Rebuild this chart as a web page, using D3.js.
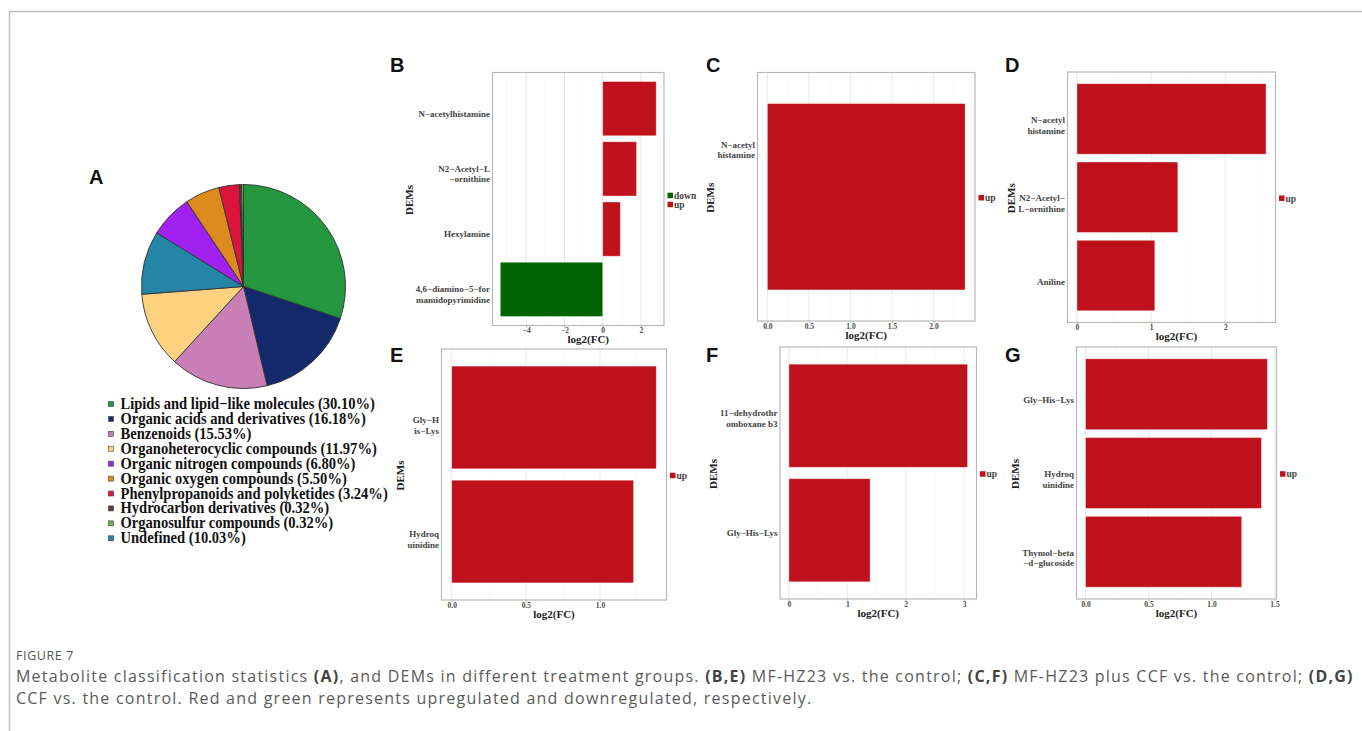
<!DOCTYPE html>
<html>
<head>
<meta charset="utf-8">
<script src="https://cdn.jsdelivr.net/npm/d3@7"></script>
<style>
  body { margin: 0; background: #fff; }
  svg { display: block; }
</style>
</head>
<body>
<script>
// Pie data (drawing order, clockwise from 12 o'clock)
var pieLabels = ["Lipids and lipid−like molecules", "Organic acids and derivatives", "Benzenoids",
  "Organoheterocyclic compounds", "Undefined", "Organic nitrogen compounds", "Organic oxygen compounds",
  "Phenylpropanoids and polyketides", "Hydrocarbon derivatives", "Organosulfur compounds"];
var pieValues = [30.10, 16.18, 15.53, 11.97, 10.03, 6.80, 5.50, 3.24, 0.32, 0.32];
var pieColors = ["#23963f", "#13296b", "#c77fb6", "#fdd17f", "#2585a6", "#a021f0", "#df8a1f",
  "#dc143c", "#5c3a2e", "#6aaf4a"];
// legend order differs from the pie order
var legendOrder = ["Lipids and lipid−like molecules", "Organic acids and derivatives", "Benzenoids",
  "Organoheterocyclic compounds", "Organic nitrogen compounds", "Organic oxygen compounds",
  "Phenylpropanoids and polyketides", "Hydrocarbon derivatives", "Organosulfur compounds", "Undefined"];

// Bar panels data (top to bottom)
var namesB = ["N−acetylhistamine", "N2−Acetyl−L\n−ornithine", "Hexylamine", "4,6−diamino−5−for\nmamidopyrimidine"];
var valuesB = [2.80, 1.77, 0.92, -5.36];
var ticksB = [-4, -2, 0, 2];

var namesC = ["N−acetyl\nhistamine"];
var valuesC = [2.38];
var ticksC = [0, 0.5, 1.0, 1.5, 2.0];

var namesD = ["N−acetyl\nhistamine", "N2−Acetyl−\nL−ornithine", "Aniline"];
var valuesD = [2.55, 1.36, 1.05];
var ticksD = [0, 1, 2];

var namesE = ["Gly−H\nis−Lys", "Hydroq\nuinidine"];
var valuesE = [1.38, 1.227];
var ticksE = [0, 0.5, 1.0];

var namesF = ["11−dehydrothr\nomboxane b3", "Gly−His−Lys"];
var valuesF = [3.06, 1.39];
var ticksF = [0, 1, 2, 3];

var namesG = ["Gly−His−Lys", "Hydroq\nuinidine", "Thymol−beta\n−d−glucoside"];
var valuesG = [1.444, 1.397, 1.24];
var ticksG = [0, 0.5, 1.0, 1.5];

var upColor = "#bf111c", downColor = "#006400";
var serif = "'Liberation Serif', 'Times New Roman', serif";

var svg = d3.select("body").append("svg")
  .attr("width", 1362)
  .attr("height", 731);

// outer frame
svg.append("line").attr("x1", 9).attr("x2", 1362).attr("y1", 11.5).attr("y2", 11.5)
  .style("stroke", "#bdbdbd").style("stroke-width", 1.5);
svg.append("line").attr("x1", 9.5).attr("x2", 9.5).attr("y1", 11).attr("y2", 731)
  .style("stroke", "#bdbdbd").style("stroke-width", 1.5);

// panel letters
var letters = [["A", 89, 184], ["B", 390, 71.5], ["C", 706, 71.5], ["D", 1005, 71.5],
  ["E", 390, 362], ["F", 706, 362], ["G", 1005, 362]];
svg.selectAll(".letter")
  .data(letters)
  .enter()
  .append("text")
  .attr("x", d => d[1])
  .attr("y", d => d[2])
  .text(d => d[0])
  .style("font-family", "'Liberation Sans', Arial, sans-serif")
  .style("font-weight", "bold")
  .style("font-size", "20px")
  .style("fill", "#111");

// ---- Pie (A) ----
var pie = d3.pie().sort(null).value(d => d)(pieValues);
var arc = d3.arc().innerRadius(0).outerRadius(102);
var pieG = svg.append("g").attr("transform", "translate(243.5,286.5)");
pieG.selectAll("path")
  .data(pie)
  .enter()
  .append("path")
  .attr("d", arc)
  .style("fill", (d, i) => pieColors[i])
  .style("stroke", "#333")
  .style("stroke-width", 0.9);

var legA = svg.append("g").attr("transform", "translate(108.5,409)");
legendOrder.forEach(function (name, i) {
  var k = pieLabels.indexOf(name);
  legA.append("rect")
    .attr("x", 0)
    .attr("y", i * 14.92 - 7.5)
    .attr("width", 5)
    .attr("height", 5)
    .style("fill", pieColors[k])
    .style("stroke", "#444")
    .style("stroke-width", 0.6);
  legA.append("text")
    .attr("transform", "translate(12," + (i * 14.92) + ") scale(0.91,1)")
    .text(name + " (" + pieValues[k].toFixed(2) + "%)")
    .style("font-family", serif)
    .style("font-weight", "bold")
    .style("font-size", "16px")
    .style("fill", "#111");
});

// ---- Bar panels ----
var panels = [
  { names: namesB, values: valuesB, ticks: ticksB, fmt: "d", keys: ["down", "up"],
    left: 492.5, right: 664, top: 72.5, bottom: 325.5, labelDy: 5, titleDx: 10, titleDy: 13.5 },
  { names: namesC, values: valuesC, ticks: ticksC, fmt: ".1f", keys: ["up"],
    left: 757.5, right: 975, top: 72.5, bottom: 321, labelDy: -47, titleDx: 0, titleDy: 14 },
  { names: namesD, values: valuesD, ticks: ticksD, fmt: "d", keys: ["up"],
    left: 1067.5, right: 1275.5, top: 72, bottom: 322.5, labelDy: 6, titleDx: 5, titleDy: 14 },
  { names: namesE, values: valuesE, ticks: ticksE, fmt: ".1f", keys: ["up"],
    left: 441.5, right: 666.5, top: 349, bottom: 600, labelDy: 8, titleDx: 0, titleDy: 14 },
  { names: namesF, values: valuesF, ticks: ticksF, fmt: "d", keys: ["up"],
    left: 780, right: 976.5, top: 347, bottom: 599, labelDy: 3, titleDx: 0, titleDy: 14 },
  { names: namesG, values: valuesG, ticks: ticksG, fmt: ".1f", keys: ["up"],
    left: 1076.5, right: 1276.5, top: 347, bottom: 599, labelDy: 6, titleDx: 0, titleDy: 14 }
];

panels.forEach(drawPanel);

function drawPanel(p) {
  var lo = Math.min(0, d3.min(p.values)), hi = Math.max(0, d3.max(p.values));
  var pad = (hi - lo) * 0.05;
  var x = d3.scaleLinear().domain([lo - pad, hi + pad]).range([p.left, p.right]);
  var y = d3.scaleBand().domain(p.names).range([p.top, p.bottom])
    .paddingInner(0.1).paddingOuter(0.15);
  var g = svg.append("g");

  // background + grid (major and minor)
  g.append("rect")
    .attr("x", p.left).attr("y", p.top)
    .attr("width", p.right - p.left).attr("height", p.bottom - p.top)
    .style("fill", "#fff");
  var step = p.ticks[1] - p.ticks[0];
  var minor = [];
  for (var t = p.ticks[0] - step / 2; t <= x.domain()[1]; t += step) {
    if (t >= x.domain()[0]) minor.push(t);
  }
  g.selectAll(".minor").data(minor).enter().append("line")
    .attr("x1", d => x(d)).attr("x2", d => x(d))
    .attr("y1", p.top).attr("y2", p.bottom)
    .style("stroke", "#f2f2f2").style("stroke-width", 0.6);
  g.selectAll(".major").data(p.ticks).enter().append("line")
    .attr("x1", d => x(d)).attr("x2", d => x(d))
    .attr("y1", p.top).attr("y2", p.bottom)
    .style("stroke", "#e6e6e6").style("stroke-width", 0.9);

  // bars
  g.selectAll(".bar")
    .data(p.names)
    .enter()
    .append("rect")
    .attr("x", (d, i) => x(Math.min(0, p.values[i])))
    .attr("y", d => y(d))
    .attr("width", (d, i) => Math.abs(x(p.values[i]) - x(0)))
    .attr("height", y.bandwidth())
    .style("fill", (d, i) => p.values[i] < 0 ? downColor : upColor)
    .style("stroke", "#fff")
    .style("stroke-opacity", 0.45)
    .style("stroke-width", 0.8);

  // border
  g.append("rect")
    .attr("x", p.left).attr("y", p.top)
    .attr("width", p.right - p.left).attr("height", p.bottom - p.top)
    .style("fill", "none").style("stroke", "#b8b8b8").style("stroke-width", 1.2);

  // x axis
  var xa = g.append("g")
    .attr("transform", "translate(0," + p.bottom + ")")
    .call(d3.axisBottom(x).tickValues(p.ticks).tickFormat(d3.format(p.fmt)).tickSize(2.2).tickPadding(0));
  xa.select(".domain").remove();
  xa.selectAll("line").style("stroke", "#b8b8b8");
  xa.selectAll("text")
    .style("font-family", serif).style("font-weight", "bold")
    .style("font-size", "7.5px").style("fill", "#4d4d4d");

  // y labels
  var labelsLeft = p.left;
  p.names.forEach(function (name) {
    var lines = name.split("\n");
    var t = g.append("text")
      .attr("text-anchor", "end")
      .attr("y", y(name) + y.bandwidth() / 2 + p.labelDy)
      .style("font-family", serif).style("font-weight", "bold")
      .style("font-size", "9px").style("fill", "#444");
    lines.forEach(function (ln, j) {
      t.append("tspan")
        .attr("x", p.left - 2.5)
        .attr("dy", j === 0 ? (0.35 - (lines.length - 1) * 0.6) + "em" : "1.2em")
        .text(ln);
    });
    labelsLeft = Math.min(labelsLeft, t.node().getBBox().x);
  });

  // axis titles
  g.append("text")
    .attr("transform", "translate(" + (labelsLeft - 7) + "," + ((p.top + p.bottom) / 2 + 1) + ") rotate(-90)")
    .attr("text-anchor", "middle")
    .attr("dy", "0.35em")
    .text("DEMs")
    .style("font-family", serif).style("font-weight", "bold")
    .style("font-size", "11px").style("fill", "#222");
  g.append("text")
    .attr("x", (p.left + p.right) / 2 + p.titleDx)
    .attr("y", p.bottom + p.titleDy)
    .attr("text-anchor", "middle")
    .attr("dy", "0.35em")
    .text("log2(FC)")
    .style("font-family", serif).style("font-weight", "bold")
    .style("font-size", "11px").style("fill", "#222");

  // legend
  var cy = (p.top + p.bottom) / 2 + 1 - (p.keys.length - 1) * 4.5;
  p.keys.forEach(function (k, i) {
    g.append("rect")
      .attr("x", p.right + 3.5)
      .attr("y", cy + i * 9 - 2.8)
      .attr("width", 5.5).attr("height", 5.5)
      .style("fill", k === "down" ? downColor : upColor);
    g.append("text")
      .attr("x", p.right + 10)
      .attr("y", cy + i * 9)
      .attr("dy", "0.35em")
      .text(k)
      .style("font-family", serif).style("font-weight", "bold")
      .style("font-size", "9.5px").style("fill", "#444");
  });
}

// ---- Caption ----
var capFont = "'Open Sans', 'Noto Sans', sans-serif";
svg.append("text")
  .attr("x", 16).attr("y", 660)
  .text("FIGURE 7")
  .style("font-family", capFont).style("font-size", "12.5px")
  .style("letter-spacing", "0.6px").style("fill", "#555");

var cap1 = [["Metabolite classification statistics ", 0], ["(A)", 1], [", and DEMs in different treatment groups. ", 0],
  ["(B,E)", 1], [" MF-HZ23 vs. the control; ", 0], ["(C,F)", 1], [" MF-HZ23 plus CCF vs. the control; ", 0], ["(D,G)", 1]];
var cap2 = [["CCF vs. the control. Red and green represents upregulated and downregulated, respectively.", 0]];
[[cap1, 682], [cap2, 704]].forEach(function (c) {
  var t = svg.append("text")
    .attr("x", 16).attr("y", c[1])
    .style("font-family", capFont).style("font-size", "16px")
    .style("letter-spacing", "1.23px").style("fill", "#5a5a5a");
  c[0].forEach(function (s) {
    t.append("tspan").text(s[0])
      .style("font-weight", s[1] ? "bold" : "normal")
      .style("fill", s[1] ? "#444" : "#5a5a5a");
  });
});
</script>
</body>
</html>
